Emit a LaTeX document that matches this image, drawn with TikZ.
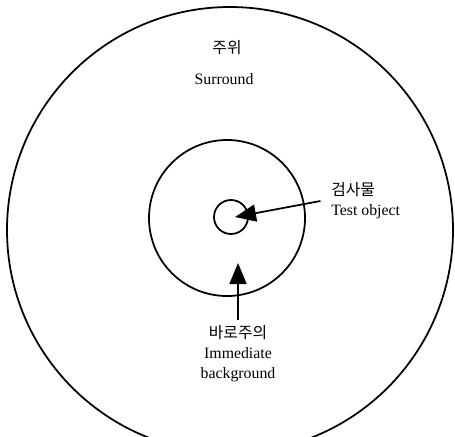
\documentclass[tikz,border=0pt]{standalone}
\usepackage{fontspec}
\setmainfont{Liberation Serif}
\newfontfamily\kr{Noto Sans CJK KR}
\usetikzlibrary{arrows.meta}

\tikzset{
  ring/.style={draw, circle, line width=1pt, inner sep=0pt},
  lbl/.style={inner sep=0pt, font=\fontsize{9}{11.5}\selectfont},
  pointer/.style={-{Triangle[length=0.42cm, width=0.34cm]}, line width=1pt}
}

\begin{document}
\begin{tikzpicture}[x=0.02cm, y=0.02cm]
	\useasboundingbox (0,0) rectangle (455,-436);
	\clip (0,0) rectangle (455,-436);

	\node (surround) [ring, minimum size=446*0.02cm] at (230,-230) {};
	\node (backgr) [ring, minimum size=156*0.02cm] at (227,-218) {};
	\node (object) [ring, minimum size=34*0.02cm] at (231,-217) {};

	\node (krsur) [lbl] at (227,-48) {\kr 주위};
	\node (ensur) [lbl] at (224,-79) {Surround};
	\node (objlbl) [lbl, anchor=west, align=left] at (331,-201) {{\kr 검사물}\\Test object};
	\node (bglbl) [lbl, anchor=north, align=center] at (238,-325) {{\kr 바로주의}\\Immediate\\background};

	\coordinate (objtip) at (235,-217);
	\coordinate (bgtip) at (238,-263);

	\draw[pointer] ([xshift=-6]objlbl.west) -- (objtip);
	\draw[pointer] ([yshift=3]bglbl.north) -- (bgtip);
\end{tikzpicture}
\end{document}
